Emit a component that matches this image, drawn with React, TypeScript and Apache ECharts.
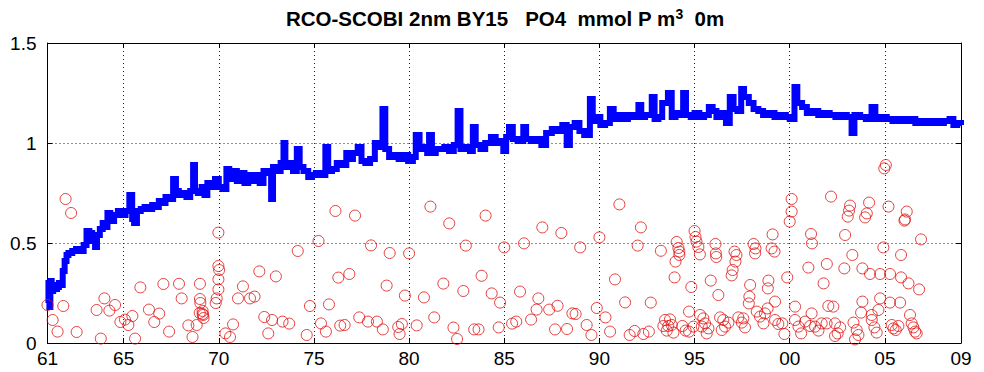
import React, { useEffect, useRef } from "react";
import * as echarts from "echarts";

// Model surface PO4 (mmol P m^-3), [year, value]
const modelPO4: [number, number][] = [
  [1961.0, 0.2], [1961.05, 0.3], [1961.1, 0.18], [1961.15, 0.31], [1961.22, 0.26], [1961.3, 0.29],
  [1961.4, 0.27], [1961.5, 0.28], [1961.6, 0.3], [1961.7, 0.29], [1961.8, 0.36], [1961.9, 0.41],
  [1962.0, 0.44], [1962.1, 0.45], [1962.3, 0.46], [1962.5, 0.47], [1962.7, 0.46], [1962.9, 0.49],
  [1963.05, 0.56], [1963.2, 0.55], [1963.35, 0.51], [1963.5, 0.48], [1963.6, 0.54], [1963.75, 0.57],
  [1963.9, 0.6], [1964.05, 0.58], [1964.15, 0.65], [1964.3, 0.61], [1964.5, 0.64], [1964.7, 0.66],
  [1964.9, 0.64], [1965.1, 0.66], [1965.3, 0.74], [1965.45, 0.62], [1965.55, 0.6], [1965.7, 0.66],
  [1965.9, 0.67], [1966.1, 0.68], [1966.3, 0.67], [1966.5, 0.69], [1966.7, 0.68], [1966.85, 0.71],
  [1967.0, 0.7], [1967.2, 0.73], [1967.4, 0.72], [1967.6, 0.82], [1967.75, 0.76],
  [1967.9, 0.74], [1968.1, 0.75], [1968.3, 0.73], [1968.5, 0.76], [1968.65, 0.89], [1968.75, 0.76],
  [1968.9, 0.75], [1969.1, 0.78], [1969.25, 0.74], [1969.4, 0.8], [1969.6, 0.78], [1969.8, 0.82],
  [1970.0, 0.78], [1970.2, 0.77], [1970.4, 0.87], [1970.55, 0.82], [1970.75, 0.86], [1970.95, 0.81],
  [1971.15, 0.85], [1971.35, 0.8], [1971.55, 0.84], [1971.75, 0.81], [1971.95, 0.84], [1972.15, 0.8],
  [1972.35, 0.86], [1972.55, 0.85], [1972.75, 0.72], [1972.85, 0.88], [1973.05, 0.86], [1973.25, 0.9],
  [1973.4, 1.0], [1973.5, 0.88], [1973.7, 0.9], [1973.9, 0.86], [1974.1, 0.97], [1974.25, 0.88],
  [1974.45, 0.86], [1974.7, 0.83], [1974.9, 0.84], [1975.1, 0.85], [1975.35, 0.84], [1975.6, 0.98],
  [1975.75, 0.86], [1975.95, 0.87], [1976.2, 0.9], [1976.45, 0.89], [1976.7, 0.95], [1976.85, 0.92],
  [1977.05, 0.95], [1977.3, 0.98], [1977.5, 0.91], [1977.7, 0.9], [1977.95, 0.92], [1978.2, 1.0],
  [1978.45, 0.98], [1978.6, 1.17], [1978.75, 0.97], [1978.95, 0.93], [1979.2, 0.94], [1979.45, 0.92],
  [1979.7, 0.94], [1979.95, 0.91], [1980.2, 0.93], [1980.35, 1.04], [1980.55, 0.97], [1980.75, 0.98],
  [1980.95, 0.95], [1981.05, 1.04], [1981.2, 0.95], [1981.4, 0.97],
  [1981.6, 0.97], [1981.85, 0.98], [1982.1, 0.96], [1982.35, 0.99], [1982.55, 1.16], [1982.7, 0.97],
  [1982.95, 0.98], [1983.2, 0.96], [1983.35, 1.08], [1983.5, 0.99], [1983.75, 0.97], [1984.0, 1.0],
  [1984.3, 1.03], [1984.55, 1.0], [1984.8, 1.01], [1984.95, 0.96], [1985.1, 1.03], [1985.25, 1.08],
  [1985.45, 1.02], [1985.7, 1.01], [1986.0, 1.08], [1986.15, 1.02], [1986.4, 1.01], [1986.7, 1.02],
  [1986.95, 0.99], [1987.2, 1.05], [1987.5, 1.07], [1987.8, 1.06], [1988.05, 1.09],
  [1988.28, 0.99], [1988.45, 1.08], [1988.7, 1.1], [1988.95, 1.06], [1989.2, 1.04], [1989.5, 1.22],
  [1989.65, 1.11], [1989.85, 1.13], [1990.05, 1.09], [1990.3, 1.1], [1990.55, 1.17], [1990.75, 1.12],
  [1991.0, 1.14], [1991.25, 1.12], [1991.5, 1.14], [1991.8, 1.13], [1992.05, 1.19], [1992.2, 1.13],
  [1992.4, 1.14], [1992.75, 1.23], [1992.9, 1.12], [1993.1, 1.13], [1993.3, 1.2], [1993.6, 1.25],
  [1993.8, 1.13], [1994.0, 1.15], [1994.2, 1.14], [1994.4, 1.25], [1994.55, 1.14], [1994.8, 1.13],
  [1995.0, 1.15], [1995.25, 1.13], [1995.5, 1.14], [1995.75, 1.18], [1995.95, 1.16], [1996.15, 1.13],
  [1996.4, 1.15], [1996.65, 1.1], [1996.85, 1.23], [1997.05, 1.17], [1997.25, 1.16], [1997.45, 1.27],
  [1997.6, 1.23], [1997.85, 1.2], [1998.1, 1.17], [1998.35, 1.16], [1998.6, 1.14], [1998.9, 1.15],
  [1999.2, 1.13], [1999.5, 1.14], [1999.8, 1.13], [2000.0, 1.12], [2000.25, 1.28], [2000.4, 1.2],
  [2000.65, 1.18], [2000.9, 1.15], [2001.2, 1.16], [2001.5, 1.14], [2001.8, 1.15],
  [2002.1, 1.14], [2002.4, 1.13], [2002.7, 1.14], [2003.0, 1.13], [2003.25, 1.05], [2003.4, 1.14],
  [2003.7, 1.13], [2004.0, 1.12], [2004.3, 1.18], [2004.5, 1.12], [2004.8, 1.13], [2005.1, 1.12],
  [2005.4, 1.11], [2005.7, 1.12], [2006.0, 1.11], [2006.3, 1.12], [2006.6, 1.1], [2006.9, 1.11],
  [2007.2, 1.1], [2007.5, 1.11], [2007.8, 1.1], [2008.1, 1.11], [2008.4, 1.12], [2008.6, 1.09],
  [2008.8, 1.1], [2009.0, 1.09],
];

// Observed surface PO4, [year, value]
const obsPO4: [number, number][] = [
  [1961.0, 0.19], [1961.27, 0.115], [1961.53, 0.057], [1961.83, 0.185], [1961.95, 0.72], [1962.24, 0.65],
  [1962.53, 0.055], [1963.58, 0.165], [1963.8, 0.022], [1963.99, 0.223], [1964.25, 0.162], [1964.55, 0.19],
  [1964.83, 0.105], [1965.07, 0.117], [1965.25, 0.09], [1965.46, 0.135], [1965.6, 0.022], [1965.88, 0.278],
  [1966.33, 0.167], [1966.61, 0.105], [1966.87, 0.147], [1967.09, 0.295], [1967.39, 0.057], [1967.91, 0.296],
  [1968.05, 0.223], [1968.4, 0.088], [1968.62, 0.03], [1968.84, 0.09], [1969.01, 0.296], [1969.01, 0.22],
  [1969.03, 0.2], [1969.0, 0.15], [1969.15, 0.16], [1969.18, 0.14], [1969.2, 0.125], [1969.15, 0.145],
  [1969.84, 0.2], [1969.89, 0.223], [1969.98, 0.552], [1969.98, 0.385], [1970.02, 0.365], [1969.98, 0.318],
  [1969.98, 0.268], [1970.35, 0.048], [1970.59, 0.03], [1970.75, 0.093], [1971.01, 0.223], [1971.27, 0.283],
  [1971.64, 0.223], [1971.88, 0.232], [1972.13, 0.358], [1972.39, 0.13], [1972.6, 0.048], [1972.8, 0.115],
  [1973.0, 0.333], [1973.35, 0.107], [1973.7, 0.097], [1974.15, 0.46], [1974.62, 0.04], [1974.79, 0.185],
  [1975.24, 0.51], [1975.37, 0.098], [1975.63, 0.057], [1975.79, 0.193], [1976.13, 0.66], [1976.28, 0.327],
  [1976.38, 0.087], [1976.61, 0.09], [1976.86, 0.345], [1977.16, 0.637], [1977.38, 0.128], [1977.84, 0.107],
  [1978.0, 0.488], [1978.31, 0.107], [1978.62, 0.068], [1978.82, 0.287], [1978.98, 0.45], [1979.43, 0.08],
  [1979.5, 0.045], [1979.62, 0.095], [1979.78, 0.237], [1980.0, 0.448], [1980.4, 0.088], [1980.78, 0.228],
  [1981.12, 0.682], [1981.32, 0.128], [1981.8, 0.297], [1982.11, 0.598], [1982.33, 0.077], [1982.52, 0.02],
  [1982.85, 0.26], [1982.98, 0.487], [1983.42, 0.068], [1983.65, 0.068], [1983.81, 0.336], [1984.02, 0.637],
  [1984.34, 0.248], [1984.71, 0.078], [1984.78, 0.202], [1985.0, 0.478], [1985.41, 0.097], [1985.63, 0.107],
  [1985.83, 0.257], [1986.04, 0.498], [1986.41, 0.117], [1986.7, 0.167], [1986.79, 0.223], [1987.0, 0.578],
  [1987.36, 0.167], [1987.67, 0.068], [1987.8, 0.186], [1988.0, 0.55], [1988.3, 0.07], [1988.58, 0.148],
  [1988.75, 0.145], [1988.99, 0.478], [1989.33, 0.09], [1989.58, 0.04], [1989.86, 0.175], [1990.0, 0.528],
  [1990.32, 0.128], [1990.56, 0.057], [1990.82, 0.318], [1991.05, 0.693], [1991.35, 0.203], [1991.59, 0.04],
  [1991.85, 0.06], [1992.01, 0.487], [1992.18, 0.578], [1992.31, 0.045], [1992.6, 0.057], [1992.7, 0.202],
  [1993.23, 0.461], [1993.36, 0.085], [1993.45, 0.115], [1993.54, 0.062], [1993.62, 0.085], [1993.71, 0.118],
  [1993.8, 0.09], [1993.89, 0.052], [1993.95, 0.328], [1994.0, 0.407], [1994.06, 0.505], [1994.15, 0.475],
  [1994.2, 0.457], [1994.2, 0.44], [1994.36, 0.085], [1994.53, 0.062], [1994.71, 0.057], [1994.71, 0.157],
  [1994.83, 0.28], [1994.94, 0.082], [1995.0, 0.56], [1995.05, 0.53], [1995.1, 0.507], [1995.2, 0.48],
  [1995.28, 0.443], [1995.29, 0.14], [1995.38, 0.082], [1995.46, 0.123], [1995.55, 0.098], [1995.64, 0.048],
  [1995.73, 0.073], [1995.85, 0.312], [1996.1, 0.495], [1996.12, 0.448], [1996.14, 0.43], [1996.25, 0.24],
  [1996.34, 0.128], [1996.43, 0.065], [1996.51, 0.115], [1996.6, 0.082], [1996.78, 0.102], [1997.1, 0.457],
  [1997.2, 0.44], [1997.15, 0.407], [1997.0, 0.365], [1996.95, 0.338], [1997.3, 0.128], [1997.48, 0.102],
  [1997.56, 0.123], [1997.65, 0.078], [1997.92, 0.29], [1997.88, 0.232], [1997.85, 0.198], [1998.1, 0.495],
  [1998.2, 0.473], [1998.18, 0.448], [1998.27, 0.157], [1998.44, 0.132], [1998.62, 0.098], [1998.7, 0.148],
  [1998.84, 0.173], [1998.88, 0.312], [1998.85, 0.273], [1999.1, 0.543], [1999.05, 0.473], [1999.2, 0.457],
  [1999.23, 0.207], [1999.23, 0.115], [1999.4, 0.095], [1999.61, 0.098], [1999.72, 0.045], [1999.87, 0.328],
  [2000.1, 0.72], [2000.1, 0.657], [2000.0, 0.607], [2000.28, 0.182], [2000.28, 0.115], [2000.46, 0.082],
  [2000.6, 0.048], [2000.81, 0.107], [2000.98, 0.377], [2001.07, 0.085], [2001.12, 0.545], [2001.17, 0.498],
  [2001.15, 0.148], [2001.33, 0.082], [2001.51, 0.062], [2001.68, 0.098], [2001.78, 0.298], [2001.95, 0.395],
  [2001.94, 0.098], [2002.03, 0.185], [2002.17, 0.732], [2002.29, 0.182], [2002.38, 0.098], [2002.38, 0.035],
  [2002.52, 0.048], [2002.65, 0.078], [2002.87, 0.373], [2002.91, 0.54], [2003.05, 0.632], [2003.12, 0.662],
  [2003.17, 0.687], [2003.29, 0.44], [2003.35, 0.102], [2003.43, 0.018], [2003.52, 0.065], [2003.61, 0.04],
  [2003.75, 0.152], [2003.82, 0.373], [2003.82, 0.207], [2003.96, 0.628], [2004.05, 0.648], [2004.17, 0.702],
  [2004.22, 0.345], [2004.31, 0.14], [2004.31, 0.115], [2004.45, 0.078], [2004.57, 0.052], [2004.66, 0.165],
  [2004.75, 0.345], [2004.75, 0.223], [2004.92, 0.478], [2004.97, 0.873], [2005.05, 0.89], [2005.19, 0.682],
  [2005.27, 0.345], [2005.27, 0.202], [2005.36, 0.09], [2005.45, 0.073], [2005.57, 0.065], [2005.71, 0.085],
  [2005.8, 0.202], [2005.85, 0.44], [2005.85, 0.328], [2006.03, 0.612], [2006.06, 0.618], [2006.15, 0.657],
  [2006.24, 0.298], [2006.32, 0.14], [2006.41, 0.098], [2006.5, 0.078], [2006.59, 0.057], [2006.67, 0.048],
  [2006.8, 0.268], [2006.9, 0.518],
];

const xTickYears = [1961, 1965, 1970, 1975, 1980, 1985, 1990, 1995, 2000, 2005, 2009];
const xMin = 1961;
const xMax = 2009;
const yMin = 0;
const yMax = 1.5;
const yStep = 0.5;
const titleMain = "RCO-SCOBI 2nm BY15   PO4  mmol P m";
const titleSup = "3";
const titleEnd = "  0m";

const FONT = "'Liberation Sans', Arial, Helvetica, sans-serif";

export default function App() {
  const ref = useRef<HTMLDivElement>(null);
  useEffect(() => {
    if (!ref.current) return;
    const chart = echarts.init(ref.current, undefined, { renderer: "svg" });
    const yearLabel = (v: number) => String(Math.round(v) % 100).padStart(2, "0");
    const boxAxisX = (pos: "bottom" | "top", labels: boolean) => ({
      type: "value",
      min: xMin,
      max: xMax,
      position: pos,
      axisLine: { show: true, onZero: false, lineStyle: { color: "#000", width: 1 } },
      axisTick: { show: true, inside: true, length: 5, customValues: xTickYears, lineStyle: { color: "#000" } },
      axisLabel: labels
        ? {
            show: true,
            customValues: xTickYears,
            formatter: yearLabel,
            fontSize: 19,
            fontFamily: FONT,
            color: "#000",
            margin: 6,
            showMinLabel: true,
            showMaxLabel: true,
          }
        : { show: false },
      splitLine: labels
        ? { show: true, lineStyle: { color: "#222", width: 1, type: [1, 3] } }
        : { show: false },
    });
    const boxAxisY = (pos: "left" | "right", labels: boolean) => ({
      type: "value",
      min: yMin,
      max: yMax,
      interval: yStep,
      position: pos,
      axisLine: { show: true, onZero: false, lineStyle: { color: "#000", width: 1 } },
      axisTick: { show: true, inside: true, length: 5, lineStyle: { color: "#000" } },
      axisLabel: labels
        ? { show: true, fontSize: 19, fontFamily: FONT, color: "#000", margin: 11 }
        : { show: false },
      splitLine: labels
        ? { show: true, lineStyle: { color: "#222", width: 1, type: [1, 3] } }
        : { show: false },
    });
    chart.setOption({
      animation: false,
      backgroundColor: "#fff",
      grid: { left: 47.5, right: 23, top: 43, bottom: 29, containLabel: false },
      xAxis: [boxAxisX("bottom", true), boxAxisX("top", false)],
      yAxis: [boxAxisY("left", true), boxAxisY("right", false)],
      graphic: [
        {
          type: "text",
          x: 505,
          y: 7,
          style: {
            text: `{b|${titleMain}}{s|${titleSup}}{b|${titleEnd}}`,
            align: "center",
            textAlign: "center",
            verticalAlign: "top",
            textVerticalAlign: "top",
            rich: {
              b: { fontSize: 20.5, fontWeight: "bold", fontFamily: FONT, fill: "#000", color: "#000" },
              s: { fontSize: 14, fontWeight: "bold", fontFamily: FONT, fill: "#000", color: "#000", verticalAlign: "top", padding: [0, 0, 8, 0] },
            },
          },
        },
      ],
      series: [
        {
          type: "line",
          data: modelPO4,
          step: "end",
          showSymbol: false,
          symbol: "none",
          lineStyle: { color: "#0000ff", width: 6, join: "miter" },
          itemStyle: { color: "#0000ff" },
          z: 3,
        },
        {
          type: "scatter",
          data: obsPO4,
          symbol: "circle",
          symbolSize: 11,
          itemStyle: { color: "rgba(0,0,0,0)", borderColor: "#e01010", borderWidth: 1 },
          z: 4,
        },
      ],
    });
    return () => chart.dispose();
  }, []);
  return (
    <div
      ref={ref}
      style={{ position: "fixed", left: 0, top: 0, width: 984, height: 372, background: "#fff" }}
    />
  );
}
